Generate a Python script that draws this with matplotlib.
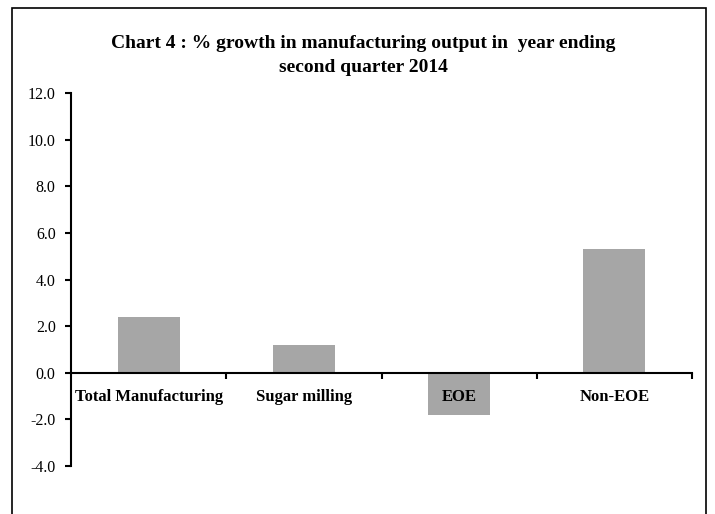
import matplotlib
matplotlib.use("Agg")
import matplotlib.pyplot as plt
from matplotlib.patches import Rectangle

###### data
categories = ['Total Manufacturing', 'Sugar milling', 'EOE', 'Non-EOE']
growth = [2.4, 1.2, -1.8, 5.3]
yticks = [-4.0, -2.0, 0.0, 2.0, 4.0, 6.0, 8.0, 10.0, 12.0]

plt.rcParams['font.family'] = ['Liberation Serif', 'DejaVu Serif']

fig = plt.figure(figsize=(7.15, 5.14), dpi=100)
ax = fig.add_axes([71 / 715, 1 - 466 / 514, 621 / 715, 373 / 514])

x = list(range(len(categories)))
ax.bar(x, growth, width=0.4, color='#a6a6a6', zorder=1)
ax.set_axisbelow(False)  # category labels must sit on top of the EOE bar

ax.set_xlim(-0.5, len(categories) - 0.5)
ax.set_ylim(-4, 12)
ax.set_yticks(yticks)
ax.set_yticklabels(['{:.1f}'.format(v) for v in yticks], fontsize=11.5)

# category labels sit right under the zero line, tick marks at the boundaries
ax.spines['bottom'].set_position(('data', 0))
ax.set_xticks(x)
ax.set_xticklabels(categories, fontsize=12, fontweight='bold')
ax.tick_params(axis='x', which='major', length=0, pad=12)
ax.set_xticks([i + 0.5 for i in x], minor=True)
ax.tick_params(axis='x', which='minor', direction='out', length=4, width=1.5)
ax.tick_params(axis='y', direction='out', length=4, width=1.5, pad=7)

for side in ['top', 'right']:
    ax.spines[side].set_visible(False)
for side in ['left', 'bottom']:
    ax.spines[side].set_linewidth(1.5)

fig.text(363 / 715, 1 - 55.5 / 514,
         'Chart 4 : % growth in manufacturing output in  year ending\nsecond quarter 2014',
         ha='center', va='center', fontsize=14, fontweight='bold', linespacing=1.5)

# outer frame (no bottom edge visible in the original)
fig.patches.append(Rectangle((12 / 715, -0.05), (706 - 12) / 715, 1.05 - 8 / 514,
                             transform=fig.transFigure, fill=False,
                             edgecolor='black', linewidth=1.2))

fig.savefig('out.png', dpi=100)
